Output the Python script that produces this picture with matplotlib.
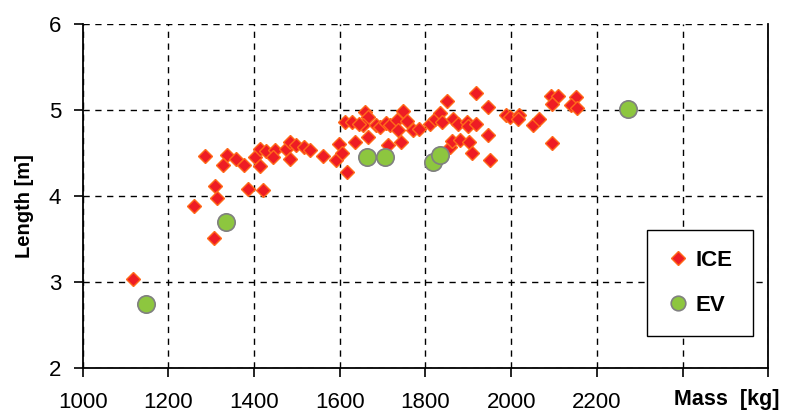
import numpy as np
import matplotlib
matplotlib.use('Agg')
import matplotlib.pyplot as plt

# ICE vehicles: mass [kg], length [m]
ice_mass = [1118, 1261, 1307, 1310, 1313, 1285, 1337, 1328, 1359, 1377, 1385, 1421,
            1403, 1413, 1414, 1427, 1449, 1445, 1474, 1484, 1484, 1499, 1516, 1530,
            1562, 1592, 1599, 1605, 1616, 1612, 1628, 1635, 1660, 1667, 1655, 1667,
            1684, 1645, 1695, 1707, 1717, 1713, 1733, 1737, 1744, 1748, 1758, 1772,
            1785, 1811, 1822, 1834, 1838, 1851, 1857, 1861, 1864, 1877, 1880, 1896,
            1900, 1902, 1908, 1919, 1918, 1946, 1945, 1951, 1987, 1997, 2019, 2017,
            2050, 2066, 2095, 2094, 2110, 2096, 2151, 2139, 2153]
ice_length = [3.03, 3.88, 3.51, 4.11, 3.98, 4.46, 4.48, 4.36, 4.43, 4.36, 4.08, 4.07,
              4.455, 4.55, 4.35, 4.52, 4.53, 4.45, 4.55, 4.63, 4.43, 4.59, 4.57, 4.53,
              4.46, 4.42, 4.60, 4.50, 4.28, 4.86, 4.86, 4.63, 4.98, 4.92, 4.83, 4.69,
              4.82, 4.84, 4.80, 4.85, 4.82, 4.59, 4.88, 4.77, 4.63, 4.99, 4.87, 4.77,
              4.78, 4.84, 4.89, 4.97, 4.86, 5.10, 4.57, 4.64, 4.89, 4.84, 4.65, 4.86,
              4.81, 4.63, 4.50, 5.20, 4.84, 5.03, 4.71, 4.42, 4.94, 4.92, 4.94, 4.89,
              4.82, 4.89, 4.61, 5.16, 5.16, 5.07, 5.15, 5.06, 5.02]

# EV vehicles
ev_mass = [1149, 1334, 1663, 1705, 1817, 1834, 2272]
ev_length = [2.74, 3.70, 4.45, 4.45, 4.40, 4.48, 5.01]

x_ticks = [1000, 1200, 1400, 1600, 1800, 2000, 2200, 2400, 2600]
x_labels = ['1000', '1200', '1400', '1600', '1800', '2000', '2200', '', '']
y_ticks = [2, 3, 4, 5, 6]

plt.rcParams['font.family'] = ['Liberation Sans', 'DejaVu Sans']

fig = plt.figure(figsize=(7.94, 4.15), dpi=100)
ax = fig.add_axes([0.104, 0.114, 0.8636, 0.828])

ax.plot(ice_mass, ice_length, linestyle='none', marker='D', markersize=7,
        markerfacecolor='#ee1c24', markeredgecolor='#ff6a1a', markeredgewidth=1,
        label='ICE', zorder=3)
ax.plot(ev_mass, ev_length, linestyle='none', marker='o', markersize=12.5,
        markerfacecolor='#8dc63f', markeredgecolor='#808080', markeredgewidth=1.2,
        label='EV', zorder=4)

ax.set_xlim(1000, 2600)
ax.set_ylim(2, 6)
ax.set_xticks(x_ticks)
ax.set_xticklabels(x_labels)
ax.set_yticks(y_ticks)
ax.tick_params(axis='both', direction='out', length=6.5, width=1.2, labelsize=16)
ax.tick_params(axis='x', pad=11)
ax.tick_params(axis='y', pad=9)

ax.grid(True, color='black', linestyle=(0, (4.5, 4)), linewidth=1)
ax.set_axisbelow(True)
ax.spines['top'].set_visible(False)
for s in ['left', 'bottom', 'right']:
    ax.spines[s].set_linewidth(1.3)

fig.text(25 / 794, 1 - 206 / 415, 'Length [m]', rotation=90, fontsize=14.5,
         fontweight='bold', ha='center', va='center')
fig.text(727 / 794, 1 - 399 / 415, 'Mass  [kg]', fontsize=15.5,
         fontweight='bold', ha='center', va='center')

leg = ax.legend(loc='lower right', bbox_to_anchor=(0.977, 0.092), borderaxespad=0,
                fancybox=False, edgecolor='black', framealpha=1,
                prop={'weight': 'bold', 'size': 16}, labelspacing=1.1,
                handlelength=1.0, handletextpad=0.3, borderpad=0.9, numpoints=1)
leg.get_frame().set_linewidth(1)
leg.legend_handles[1].set_markersize(10.5)

fig.savefig('out.png', dpi=100)
